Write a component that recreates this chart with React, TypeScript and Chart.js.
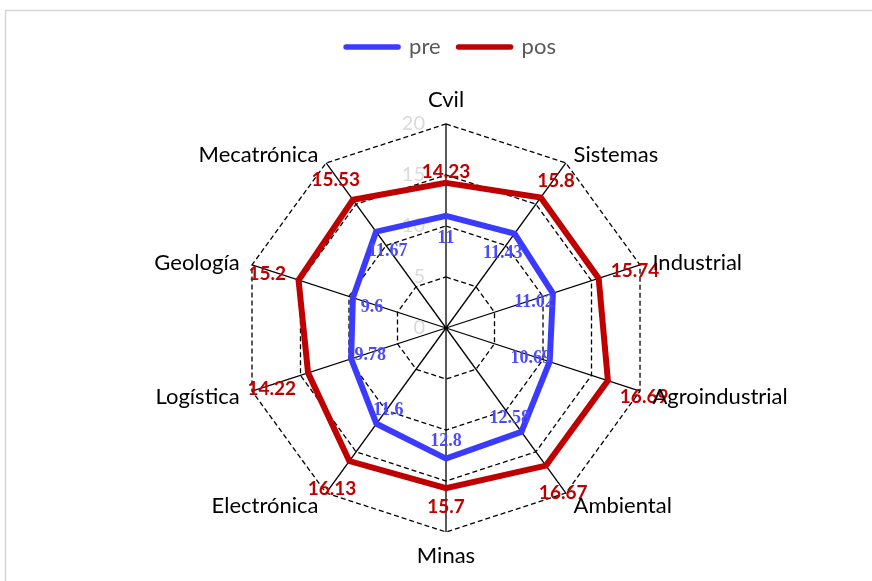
import React, { useEffect, useRef } from "react";
import { Chart, registerables } from "chart.js";

Chart.register(...registerables);

const categories = [
  "Cvil",
  "Sistemas",
  "Industrial",
  "Agroindustrial",
  "Ambiental",
  "Minas",
  "Electrónica",
  "Logística",
  "Geología",
  "Mecatrónica",
];
const preValues = [11, 11.43, 11.02, 10.69, 12.58, 12.8, 11.6, 9.78, 9.6, 11.67];
const posValues = [14.23, 15.8, 15.74, 16.69, 16.67, 15.7, 16.13, 14.22, 15.2, 15.53];
const seriesNames = ["pre", "pos"];
const tickValues = [0, 5, 10, 15, 20];

const PRE_COLOR = "#3b3bff";
const PRE_LABEL_COLOR = "#4a4aff";
const POS_COLOR = "#c00000";
const CENTER_X = 446;
const CENTER_Y = 328;
const RADIUS = 204;
const SANS = "Lato, 'Open Sans', sans-serif";

const borderPlugin = {
  id: "frame",
  beforeDraw(chart: any) {
    const ctx = chart.ctx;
    ctx.save();
    ctx.fillStyle = "#ffffff";
    ctx.fillRect(0, 0, chart.width, chart.height);
    ctx.strokeStyle = "#d6d6d6";
    ctx.lineWidth = 1.5;
    ctx.beginPath();
    ctx.moveTo(5.5, chart.height);
    ctx.lineTo(5.5, 10.5);
    ctx.lineTo(chart.width, 10.5);
    ctx.stroke();
    ctx.restore();
  },
};

const layoutPlugin = {
  id: "fixLayout",
  afterLayout(chart: any) {
    const s = chart.scales.r;
    s.xCenter = CENTER_X;
    s.yCenter = CENTER_Y;
    s.drawingArea = RADIUS;
  },
};

const tickLabelPlugin = {
  id: "tickLabels",
  beforeDatasetsDraw(chart: any) {
    const ctx = chart.ctx;
    const s = chart.scales.r;
    ctx.save();
    ctx.font = `20px ${SANS}`;
    ctx.fillStyle = "#dadada";
    ctx.textAlign = "right";
    ctx.textBaseline = "middle";
    tickValues.forEach((v) => {
      const d = s.getDistanceFromCenterForValue(v);
      ctx.fillText(String(v), s.xCenter - 21, s.yCenter - d);
    });
    ctx.restore();
  },
};

const pointLabelPlugin = {
  id: "catLabels",
  afterDraw(chart: any) {
    const ctx = chart.ctx;
    const s = chart.scales.r;
    ctx.save();
    ctx.font = `22px ${SANS}`;
    ctx.fillStyle = "#000000";
    const r = s.drawingArea + 13;
    categories.forEach((c, i) => {
      const p = s.getPointPosition(i, r);
      const ux = (p.x - s.xCenter) / r;
      const uy = (p.y - s.yCenter) / r;
      ctx.textAlign = ux > 0.1 ? "left" : ux < -0.1 ? "right" : "center";
      ctx.textBaseline = uy < -0.9 ? "bottom" : uy > 0.9 ? "top" : "middle";
      ctx.fillText(c, p.x, p.y + (Math.abs(uy) < 0.9 ? 2 : 0));
    });
    ctx.restore();
  },
};

const dataLabelPlugin = {
  id: "dataLabels",
  afterDatasetsDraw(chart: any) {
    const ctx = chart.ctx;
    const s = chart.scales.r;
    ctx.save();
    ctx.textAlign = "center";
    ctx.textBaseline = "middle";
    chart.data.datasets.forEach((ds: any, di: number) => {
      const meta = chart.getDatasetMeta(di);
      meta.data.forEach((pt: any, i: number) => {
        const text = String(ds.data[i]);
        const dx = pt.x - s.xCenter;
        const dy = pt.y - s.yCenter;
        const len = Math.hypot(dx, dy) || 1;
        const ux = dx / len;
        const uy = dy / len;
        if (di === 1) {
          ctx.font = `bold 19px ${SANS}`;
          ctx.fillStyle = POS_COLOR;
          const hw = ctx.measureText(text).width / 2;
          const d = 15 + Math.abs(ux) * hw;
          ctx.fillText(text, pt.x + ux * d, pt.y + uy * d + 4);
        } else {
          ctx.font = `bold 18px 'Liberation Serif', 'Times New Roman', serif`;
          ctx.fillStyle = PRE_LABEL_COLOR;
          const d = 20;
          ctx.fillText(text, pt.x - ux * d, pt.y - uy * d + 3);
        }
      });
    });
    ctx.restore();
  },
};

export default function App() {
  const ref = useRef<HTMLCanvasElement | null>(null);
  useEffect(() => {
    if (!ref.current) return;
    const chart = new Chart(ref.current, {
      type: "radar",
      data: {
        labels: categories,
        datasets: [
          {
            label: seriesNames[0],
            data: preValues,
            borderColor: PRE_COLOR,
            backgroundColor: "transparent",
            borderWidth: 6,
            pointRadius: 0,
            pointHoverRadius: 0,
            fill: false,
          },
          {
            label: seriesNames[1],
            data: posValues,
            borderColor: POS_COLOR,
            backgroundColor: "transparent",
            borderWidth: 6,
            pointRadius: 0,
            pointHoverRadius: 0,
            fill: false,
          },
        ],
      },
      options: {
        animation: false,
        responsive: false,
        layout: { padding: { top: 18, left: 30, right: 0, bottom: 0 } },
        scales: {
          r: {
            min: 0,
            max: 20,
            ticks: { stepSize: 5, display: false },
            pointLabels: { display: false },
            grid: { circular: false, color: "#000000", lineWidth: 1.3 },
            border: { dash: [5, 3] } as any,
            angleLines: { display: true, color: "#000000", lineWidth: 1.3 },
          },
        },
        plugins: {
          tooltip: { enabled: false },
          legend: {
            position: "top",
            labels: {
              usePointStyle: true,
              pointStyleWidth: 52,
              padding: 18,
              color: "#595959",
              font: { family: SANS, size: 22 },
              generateLabels: (c: any) =>
                c.data.datasets.map((ds: any, i: number) => ({
                  text: ds.label,
                  fillStyle: ds.borderColor,
                  strokeStyle: ds.borderColor,
                  lineWidth: 5.5,
                  lineCap: "round",
                  pointStyle: "line",
                  hidden: false,
                  datasetIndex: i,
                  fontColor: "#595959",
                })),
            },
          },
        },
      },
      plugins: [borderPlugin, layoutPlugin, tickLabelPlugin, pointLabelPlugin, dataLabelPlugin],
    } as any);
    return () => chart.destroy();
  }, []);
  return (
    <div style={{ position: "fixed", left: 0, top: 0, width: 872, height: 581, background: "#fff" }}>
      <canvas ref={ref} width={872} height={581} style={{ display: "block", width: 872, height: 581 }} />
    </div>
  );
}
